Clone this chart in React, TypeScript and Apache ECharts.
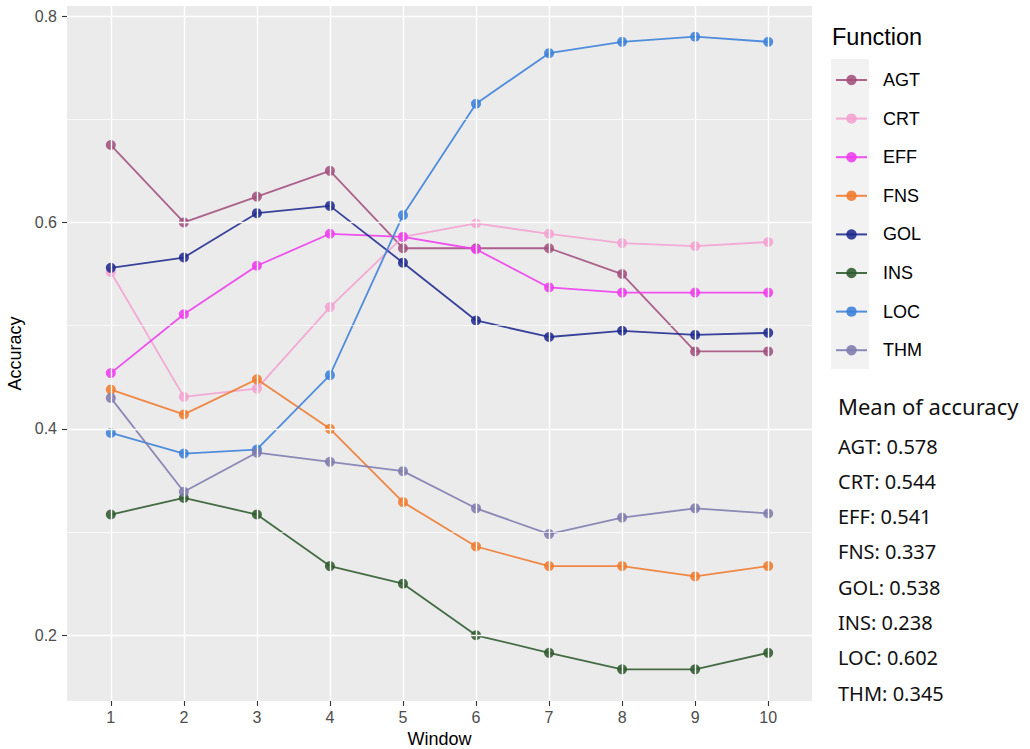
import React, { useEffect, useRef } from "react";
import * as echarts from "echarts";

const windows = [1, 2, 3, 4, 5, 6, 7, 8, 9, 10];
const functionNames = ["AGT", "CRT", "EFF", "FNS", "GOL", "INS", "LOC", "THM"];
const agt = [0.675, 0.6, 0.625, 0.65, 0.575, 0.575, 0.575, 0.55, 0.475, 0.475];
const crt = [0.552, 0.431, 0.439, 0.518, 0.586, 0.599, 0.589, 0.58, 0.577, 0.581];
const eff = [0.454, 0.511, 0.558, 0.589, 0.586, 0.574, 0.537, 0.532, 0.532, 0.532];
const fns = [0.438, 0.414, 0.448, 0.4, 0.329, 0.286, 0.267, 0.267, 0.257, 0.267];
const gol = [0.556, 0.566, 0.609, 0.616, 0.561, 0.505, 0.489, 0.495, 0.491, 0.493];
const ins = [0.317, 0.333, 0.317, 0.267, 0.25, 0.2, 0.183, 0.167, 0.167, 0.183];
const loc = [0.396, 0.376, 0.38, 0.452, 0.607, 0.715, 0.764, 0.775, 0.78, 0.775];
const thm = [0.43, 0.339, 0.377, 0.368, 0.359, 0.323, 0.298, 0.314, 0.323, 0.318];
const seriesValues = [agt, crt, eff, fns, gol, ins, loc, thm];
const seriesColors = ["#A24E7D", "#F4A0D0", "#EE3BEE", "#EF7A2E", "#1F2A8E", "#2D5A2C", "#3A80DA", "#7E7BAE"];
const meanAccuracy = ["0.578", "0.544", "0.541", "0.337", "0.538", "0.238", "0.602", "0.345"];
const yMajorTicks = [0.2, 0.4, 0.6, 0.8];
const yMinorTicks = [0.3, 0.5, 0.7];
const yMin = 0.1363;
const yMax = 0.8097;
const xMin = 0.4;
const xMax = 10.6;

const SANS = "'Liberation Sans', Arial, sans-serif";
const NOTE = "'Noto Sans', sans-serif";

export default function App() {
  const ref = useRef<HTMLDivElement>(null);
  useEffect(() => {
    if (!ref.current) return;
    const chart = echarts.init(ref.current, undefined, { renderer: "svg" });

    const gridSeries: any = {
      name: "__grid",
      type: "line",
      data: [],
      silent: true,
      z: 1,
      markLine: {
        silent: true,
        symbol: ["none", "none"],
        label: { show: false },
        emphasis: { disabled: true },
        animation: false,
        data: [
          ...yMinorTicks.map((v) => ({ yAxis: v, lineStyle: { color: "#FFFFFF", width: 0.7, type: "solid" } })),
          ...yMajorTicks.map((v) => ({ yAxis: v, lineStyle: { color: "#FFFFFF", width: 1.4, type: "solid" } })),
          ...windows.map((v) => ({ xAxis: v, lineStyle: { color: "#FFFFFF", width: 1.4, type: "solid" } })),
        ],
      },
    };

    const lineSeries = functionNames.map((name, i) => ({
      name,
      type: "line",
      z: 3,
      data: windows.map((w, j) => [w, seriesValues[i][j]]),
      symbol: "circle",
      symbolSize: 10,
      showSymbol: true,
      itemStyle: { color: seriesColors[i], opacity: 0.88 },
      lineStyle: { color: seriesColors[i], width: 1.8, opacity: 0.88 },
      emphasis: { disabled: true },
    }));

    const meanTexts = functionNames.map((name, i) => ({
      type: "text",
      x: 838,
      y: 446 + i * 35.3,
      style: {
        text: `${name}: ${meanAccuracy[i]}`,
        font: `20px ${NOTE}`,
        fill: "#111111",
        verticalAlign: "middle",
      },
    }));

    chart.setOption({
      animation: false,
      backgroundColor: "#FFFFFF",
      grid: {
        left: 67,
        right: 218,
        top: 6,
        bottom: 48,
        containLabel: false,
        outerBoundsMode: "none",
        show: true,
        backgroundColor: "#EBEBEB",
        borderWidth: 0,
      },
      xAxis: {
        type: "value",
        min: xMin,
        max: xMax,
        name: "Window",
        nameLocation: "middle",
        nameGap: 29,
        nameTextStyle: { fontFamily: SANS, fontSize: 18, color: "#000000", verticalAlign: "top" },
        axisLine: { show: false },
        axisTick: { show: true, length: 5, lineStyle: { color: "#333333", width: 1.1 }, customValues: windows },
        axisLabel: {
          customValues: windows,
          fontFamily: SANS,
          fontSize: 16,
          color: "#4D4D4D",
          margin: 8,
        },
        splitLine: { show: false },
      },
      yAxis: {
        type: "value",
        min: yMin,
        max: yMax,
        name: "Accuracy",
        nameLocation: "middle",
        nameGap: 31,
        nameTextStyle: { fontFamily: SANS, fontSize: 18, color: "#000000" },
        axisLine: { show: false },
        axisTick: { show: true, length: 5, lineStyle: { color: "#333333", width: 1.1 }, customValues: yMajorTicks },
        axisLabel: {
          customValues: yMajorTicks,
          fontFamily: SANS,
          fontSize: 16,
          color: "#4D4D4D",
          margin: 10,
          formatter: (v: number) => v.toFixed(1),
        },
        splitLine: { show: false },
      },
      legend: {
        data: functionNames,
        orient: "vertical",
        left: 835,
        top: 70,
        padding: 0,
        itemWidth: 31,
        itemHeight: 13,
        itemGap: 18.6,
        selectedMode: false,
        textStyle: {
          fontFamily: SANS,
          fontSize: 18,
          color: "#000000",
          lineHeight: 20,
          padding: [0, 0, 0, 11],
        },
      },
      graphic: [
        {
          type: "rect",
          z: 0,
          shape: { x: 831, y: 59, width: 38, height: 310 },
          style: { fill: "#F2F2F2" },
        },
        {
          type: "text",
          x: 832,
          y: 37,
          style: {
            text: "Function",
            font: `23.5px ${SANS}`,
            fill: "#000000",
            verticalAlign: "middle",
          },
        },
        {
          type: "text",
          x: 838,
          y: 406,
          style: {
            text: "Mean of accuracy",
            font: `22px ${NOTE}`,
            fill: "#111111",
            verticalAlign: "middle",
          },
        },
        ...meanTexts,
      ],
      series: [gridSeries, ...lineSeries],
    });
    return () => chart.dispose();
  }, []);
  return (
    <div
      ref={ref}
      style={{ position: "fixed", left: 0, top: 0, width: 1030, height: 749 }}
    />
  );
}
